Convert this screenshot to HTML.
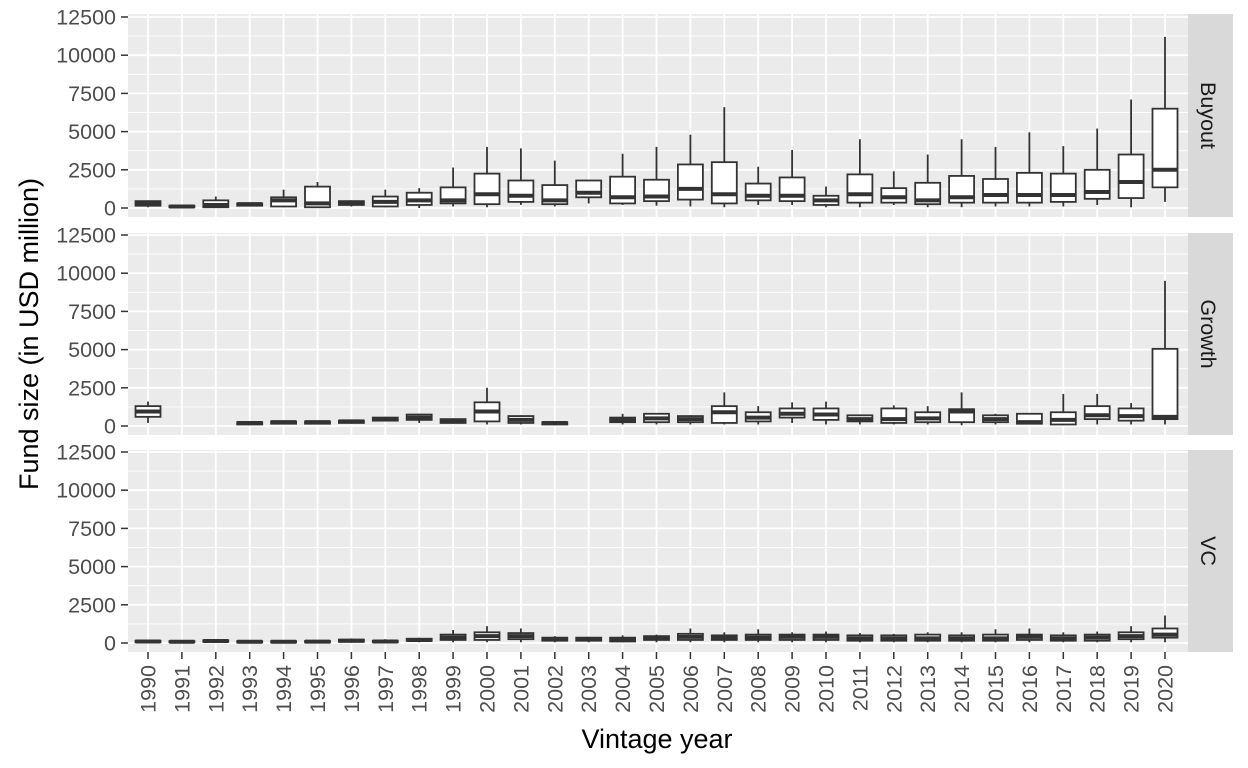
<!DOCTYPE html>
<html><head><meta charset="utf-8"><style>
html,body{margin:0;padding:0;background:#fff;}
svg{display:block;font-family:"Liberation Sans",Arial,sans-serif;}
</style></head><body>
<svg id="chart" width="1248" height="768" xmlns="http://www.w3.org/2000/svg"></svg>
<script>
const years = ["1990","1991","1992","1993","1994","1995","1996","1997","1998","1999","2000","2001","2002","2003","2004","2005","2006","2007","2008","2009","2010","2011","2012","2013","2014","2015","2016","2017","2018","2019","2020"];
const facets = ["Buyout","Growth","VC"];
const yTicks = [0,2500,5000,7500,10000,12500];
// each entry: [low whisker, q1, median, q3, high whisker] or null
const buyout = [
[50,150,300,450,500],[20,50,100,150,200],[20,50,200,500,750],[100,150,250,300,350],[50,100,500,700,1200],
[0,50,300,1400,1700],[100,200,350,450,500],[50,100,400,750,1200],[0,200,500,1000,1300],[100,300,500,1350,2650],
[50,250,900,2250,4000],[200,400,800,1800,3900],[100,250,500,1500,3100],[300,700,1000,1800,1800],[200,300,700,2050,3550],
[150,450,750,1850,4000],[100,550,1250,2850,4800],[50,300,900,3000,6600],[200,500,800,1600,2700],[200,450,800,2000,3800],
[50,200,500,800,1400],[50,350,900,2200,4500],[200,350,700,1300,2400],[50,250,500,1650,3500],[50,350,700,2100,4500],
[100,350,850,1900,4000],[100,350,850,2300,4950],[100,400,850,2250,4050],[200,600,1050,2500,5200],[50,650,1700,3500,7100],
[400,1350,2500,6500,11200]];
const growth = [
[200,600,950,1300,1600],null,null,[50,100,200,250,300],[100,150,250,300,350],
[100,150,250,300,350],[150,200,300,350,400],[300,350,450,550,600],[200,400,550,750,800],[150,200,350,450,500],
[100,300,950,1550,2500],[100,200,400,650,700],[50,100,200,250,300],null,[100,250,400,550,800],
[100,250,500,800,850],[100,250,450,650,700],[100,200,900,1300,2200],[100,300,550,900,1300],[200,550,800,1150,1550],
[100,400,750,1150,1600],[100,300,450,700,750],[100,200,450,1150,1350],[100,250,500,900,1300],[50,250,950,1100,2200],
[100,250,450,700,800],[100,150,250,800,800],[50,100,400,900,2100],[100,450,700,1300,2100],[100,350,650,1150,1500],
[100,450,600,5050,9500]];
const vc = [
[20,50,100,150,200],[20,50,80,120,150],[30,80,130,180,220],[10,40,80,120,150],[10,40,80,120,160],
[10,40,90,130,170],[20,80,150,220,300],[10,50,100,150,250],[50,150,200,280,350],[50,200,350,550,850],
[50,200,450,700,1100],[50,250,450,650,950],[50,150,250,350,450],[50,150,250,350,400],[50,100,200,350,500],
[50,200,300,450,550],[50,200,400,600,950],[50,200,350,500,700],[50,200,350,550,900],[50,200,400,550,700],
[50,200,400,550,750],[50,150,300,500,650],[50,150,300,500,600],[50,150,300,550,700],[50,150,300,500,700],
[50,150,300,550,900],[50,200,400,550,950],[50,150,300,500,700],[50,150,350,550,750],[50,250,450,700,1100],
[50,350,550,950,1800]];
const seriesByFacet = [buyout, growth, vc];

const NS = "http://www.w3.org/2000/svg";
const svg = document.getElementById("chart");
function mk(tag, attrs, parent){const e=document.createElementNS(NS,tag);for(const k in attrs)e.setAttribute(k,attrs[k]);(parent||svg).appendChild(e);return e;}

const PL=128, PR=1188;
const panels=[{top:14,bot:217,zero:208},{top:233,bot:435,zero:426},{top:450,bot:652,zero:643}];
const pxPerUnit=191/12500;
const xScale=i=>148+i*33.9;
const bw=25;

panels.forEach((p,fi)=>{
  const yScale=v=>p.zero-v*pxPerUnit;
  const g=mk("g",{});
  
  
  const bg=mk("rect",{x:PL,y:p.top,width:PR-PL,height:p.bot-p.top,fill:"#ebebeb"},g);
  
  
  for(let k=0;k<yTicks.length-1;k++){
    const v=(yTicks[k]+yTicks[k+1])/2;
    mk("line",{x1:PL,x2:PR,y1:yScale(v),y2:yScale(v),stroke:"#fff","stroke-width":0.9},g);
  }
  yTicks.forEach(t=>{
    const y=yScale(t);
    const gl=mk("line",{x1:PL,x2:PR,y1:y,y2:y,stroke:"#fff","stroke-width":1.8},g);
    
    
    mk("line",{x1:PL-7,x2:PL,y1:y,y2:y,stroke:"#333","stroke-width":1.5},g);
    const tx=mk("text",{x:PL-12,y:y+7.5,"text-anchor":"end","font-size":"21.5",fill:"#4d4d4d"},g);
    tx.textContent=t;
    
    
  });
  years.forEach((yr,i)=>{
    mk("line",{x1:xScale(i),x2:xScale(i),y1:p.top,y2:p.bot,stroke:"#fff","stroke-width":1.8},g);
  });
  seriesByFacet[fi].forEach((d,i)=>{
    if(!d) return;
    const cx=xScale(i);
    const bx=mk("g",{},g);
    
    
    mk("line",{x1:cx,x2:cx,y1:yScale(d[0]),y2:yScale(d[1]),stroke:"#333","stroke-width":1.8},bx);
    mk("line",{x1:cx,x2:cx,y1:yScale(d[3]),y2:yScale(d[4]),stroke:"#333","stroke-width":1.8},bx);
    mk("rect",{x:cx-bw/2,y:yScale(d[3]),width:bw,height:Math.max(yScale(d[1])-yScale(d[3]),0.5),fill:"#fff",stroke:"#333","stroke-width":1.8},bx);
    mk("line",{x1:cx-bw/2,x2:cx+bw/2,y1:yScale(d[2]),y2:yScale(d[2]),stroke:"#333","stroke-width":4},bx);
  });
  const st=mk("rect",{x:1188,y:p.top,width:45,height:p.bot-p.top,fill:"#d9d9d9"});
  
  
  const cy=(p.top+p.bot)/2;
  const sl=mk("text",{x:0,y:0,transform:`translate(1201,${cy}) rotate(90)`,"text-anchor":"middle","font-size":"21.5",fill:"#1a1a1a"});
  sl.textContent=facets[fi];
  
  
});
years.forEach((yr,i)=>{
  const x=xScale(i);
  mk("line",{x1:x,x2:x,y1:652,y2:659,stroke:"#333","stroke-width":1.5});
  const t=mk("text",{x:0,y:0,transform:`translate(${x+7.5},665) rotate(-90)`,"text-anchor":"end","font-size":"21.5",fill:"#4d4d4d"});
  t.textContent=yr;
  
  
});
const xt=mk("text",{x:657,y:748,"text-anchor":"middle","font-size":"27","fill":"#000"});
xt.textContent="Vintage year";


const yt=mk("text",{x:0,y:0,transform:"translate(38,334) rotate(-90)","text-anchor":"middle","font-size":"27",fill:"#000"});
yt.textContent="Fund size (in USD million)";


</script>
</body></html>
